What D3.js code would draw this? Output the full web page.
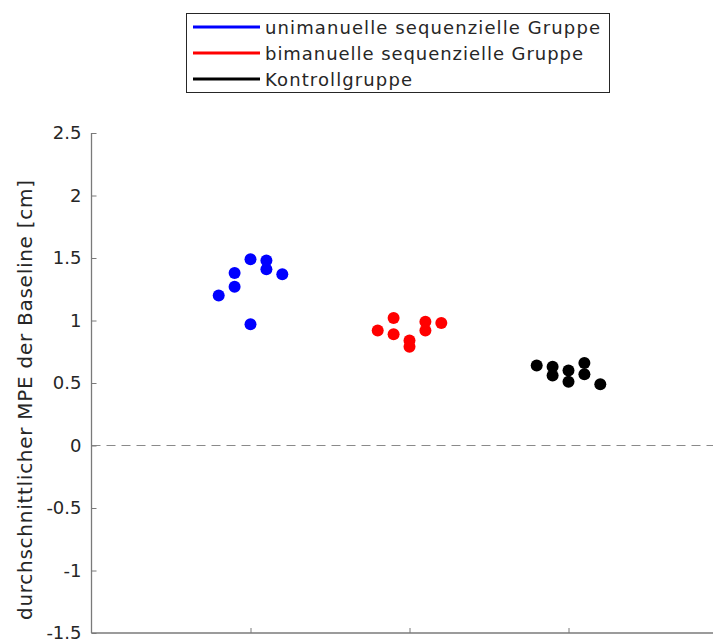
<!DOCTYPE html>
<html>
<head>
<meta charset="utf-8">
<script src="https://cdn.jsdelivr.net/npm/d3@7"></script>
<style>
  body { margin: 0; background: #fff; }
  svg { display: block; font-family: "DejaVu Sans", sans-serif; }
</style>
</head>
<body>
<svg id="chart" width="713" height="642"></svg>
<script>
// group names, colours and group positions on x
var groups = ["unimanuelle sequenzielle Gruppe", "bimanuelle sequenzielle Gruppe", "Kontrollgruppe"]
var colors = ["#0000ff", "#ff0000", "#000000"]
var groupX = [1, 2, 3]

// jitter offsets of each subject within its group
var offsetsUni = [-0.2, -0.1, -0.1, 0, 0, 0.1, 0.1, 0.2]
var valuesUni = [1.20, 1.27, 1.38, 1.49, 0.97, 1.48, 1.41, 1.37]

var offsetsBi = [-0.2, -0.1, -0.1, 0, 0, 0.1, 0.1, 0.2]
var valuesBi = [0.92, 1.02, 0.89, 0.84, 0.79, 0.99, 0.92, 0.98]

var offsetsKon = [-0.2, -0.1, -0.1, 0, 0, 0.1, 0.1, 0.2]
var valuesKon = [0.64, 0.63, 0.56, 0.60, 0.51, 0.66, 0.57, 0.49]

var yTicks = [-1.5, -1, -0.5, 0, 0.5, 1, 1.5, 2, 2.5]
var yTickLabels = ["-1.5", "-1", "-0.5", "0", "0.5", "1", "1.5", "2", "2.5"]
var xTicks = [1, 2, 3]

var svg = d3.select("#chart")

// scales - x axis runs past the right edge of the picture
var x = d3.scaleLinear().domain([0, 4]).range([91.5, 727.5])
var y = d3.scaleLinear().domain([-1.5, 2.5]).range([633, 133])

var axisColor = "#7a7a7a"
var textColor = "#262626"

// zero line
svg.append("line")
    .attr("x1", x(0)).attr("x2", 713)
    .attr("y1", y(0)).attr("y2", y(0))
    .attr("stroke", "#8a8a8a")
    .attr("stroke-width", 1.2)
    .attr("stroke-dasharray", "9,6")

// y axis, ticks pointing inward
var yAxis = svg.append("g")
    .attr("transform", "translate(" + x(0) + ",0)")
    .call(d3.axisRight(y).tickValues(yTicks).tickSize(5)
      .tickFormat(function(d, i) { return yTickLabels[i]; }))
yAxis.select(".domain").attr("stroke", axisColor).attr("stroke-width", 1.3).attr("d", "M0," + y(2.5) + "V" + y(-1.5))
yAxis.selectAll(".tick line").attr("stroke", axisColor)
yAxis.selectAll(".tick text")
    .attr("x", -10)
    .attr("text-anchor", "end")
    .attr("fill", textColor)
    .style("font-size", "18px")
    .style("font-family", "DejaVu Sans")

// x axis, no labels
var xAxis = svg.append("g")
    .attr("transform", "translate(0," + y(-1.5) + ")")
    .call(d3.axisTop(x).tickValues(xTicks).tickSize(5).tickFormat(""))
xAxis.select(".domain").attr("stroke", axisColor).attr("stroke-width", 1.3).attr("d", "M" + x(0) + ",0H713")
xAxis.selectAll(".tick line").attr("stroke", axisColor)

// y label
svg.append("text")
    .attr("transform", "translate(32," + 400 + ") rotate(-90)")
    .attr("text-anchor", "middle")
    .attr("fill", textColor)
    .attr("textLength", 440)
    .attr("lengthAdjust", "spacing")
    .style("font-size", "20px")
    .text("durchschnittlicher MPE der Baseline [cm]")

// points
var series = [
  {offsets: offsetsUni, values: valuesUni},
  {offsets: offsetsBi, values: valuesBi},
  {offsets: offsetsKon, values: valuesKon}
]
series.forEach(function(s, gi) {
  svg.append("g").selectAll("circle")
      .data(s.values)
      .enter().append("circle")
      .attr("cx", function(d, i) { return x(groupX[gi] + s.offsets[i]); })
      .attr("cy", function(d) { return y(d); })
      .attr("r", 6)
      .attr("fill", colors[gi])
})

// legend
var legendWidths = [335, 318, 147]
var legend = svg.append("g")
legend.append("rect")
    .attr("x", 186.5).attr("y", 13.5)
    .attr("width", 423).attr("height", 79)
    .attr("fill", "#fff")
    .attr("stroke", "#262626")
    .attr("stroke-width", 1)
groups.forEach(function(g, i) {
  var ly = 27 + i * 26
  legend.append("line")
      .attr("x1", 193).attr("x2", 260)
      .attr("y1", ly).attr("y2", ly)
      .attr("stroke", colors[i])
      .attr("stroke-width", 3)
  legend.append("text")
      .attr("x", 265).attr("y", ly + 7)
      .attr("fill", textColor)
      .attr("textLength", legendWidths[i])
      .attr("lengthAdjust", "spacing")
      .style("font-size", "18px")
      .text(g)
})
</script>
</body>
</html>
